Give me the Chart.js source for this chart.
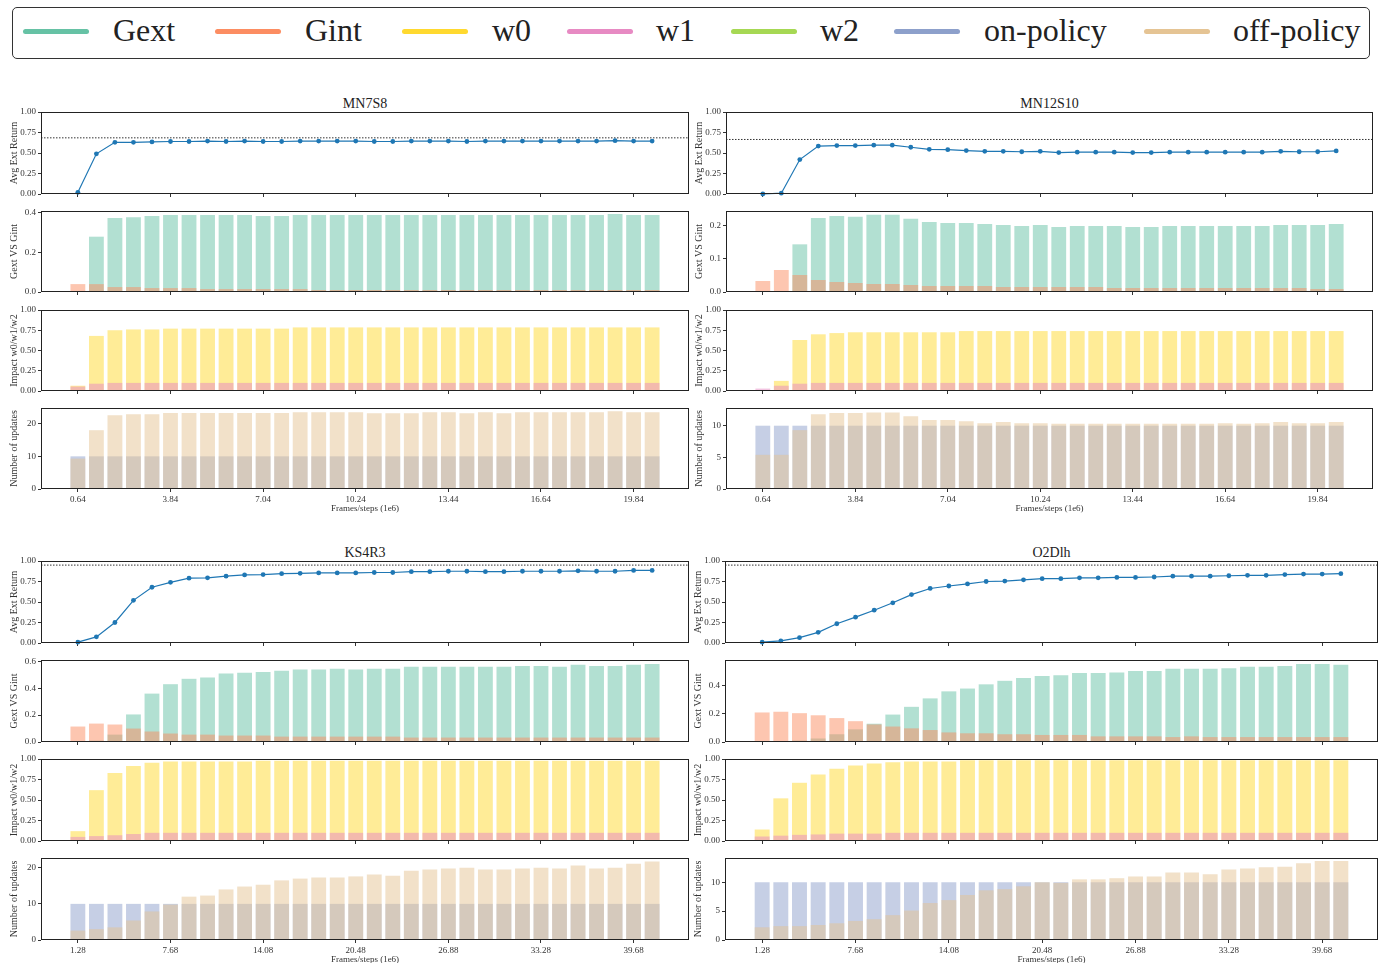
<!DOCTYPE html>
<html><head><meta charset="utf-8">
<script src="https://cdn.jsdelivr.net/npm/chart.js@4.4.1/dist/chart.umd.min.js"></script>
<style>
body{margin:0;background:#fff;width:1382px;height:963px;overflow:hidden;position:relative;font-family:"Liberation Serif",serif;color:#222;}
canvas{position:absolute;}
.ptitle{position:absolute;font-size:14px;transform:translate(-50%,-50%);white-space:nowrap;}
#legend{position:absolute;left:12px;top:7px;width:1358px;height:52px;border:1px solid #333;border-radius:5px;box-sizing:border-box;}
.lg-line{position:absolute;height:5px;border-radius:3px;width:66px;top:21px;}
.lg-text{position:absolute;font-size:32px;line-height:36px;top:4px;white-space:nowrap;}
</style>
</head><body>
<div id="legend"></div>
<script>
// ---------- data ----------
const framesA = [0.64,1.28,1.92,2.56,3.20,3.84,4.48,5.12,5.76,6.40,7.04,7.68,8.32,8.96,9.60,10.24,10.88,11.52,12.16,12.80,13.44,14.08,14.72,15.36,16.00,16.64,17.28,17.92,18.56,19.20,19.84,20.48];
const framesB = [1.28,2.56,3.84,5.12,6.40,7.68,8.96,10.24,11.52,12.80,14.08,15.36,16.64,17.92,19.20,20.48,21.76,23.04,24.32,25.60,26.88,28.16,29.44,30.72,32.00,33.28,34.56,35.84,37.12,38.40,39.68,40.96];
const xTicksA = [0.64,3.84,7.04,10.24,13.44,16.64,19.84];
const xTicksB = [1.28,7.68,14.08,20.48,26.88,33.28,39.68];
const retTicks = [0,0.25,0.5,0.75,1.0];
const impTicks = [0,0.25,0.5,0.75,1.0];

const seriesNames = ['Gext','Gint','w0','w1','w2','on-policy','off-policy'];

// MN7S8
const mn7_ret  = [0.02,0.49,0.63,0.63,0.635,0.64,0.64,0.645,0.64,0.645,0.64,0.64,0.645,0.645,0.645,0.645,0.64,0.64,0.645,0.645,0.645,0.64,0.645,0.645,0.645,0.645,0.645,0.645,0.645,0.65,0.645,0.645];
const mn7_ref  = [0.685];
const mn7_gext = [0,0.28,0.375,0.378,0.385,0.39,0.39,0.39,0.39,0.39,0.385,0.385,0.39,0.39,0.39,0.39,0.39,0.39,0.39,0.39,0.39,0.39,0.39,0.39,0.39,0.39,0.39,0.39,0.39,0.395,0.39,0.39];
const mn7_gint = [0.04,0.04,0.025,0.025,0.02,0.02,0.02,0.015,0.015,0.015,0.015,0.015,0.015,0.01,0.01,0.01,0.01,0.01,0.01,0.01,0.01,0.01,0.01,0.01,0.01,0.01,0.01,0.01,0.01,0.01,0.01,0.01];
const mn7_w0   = [0.065,0.68,0.75,0.76,0.76,0.77,0.77,0.77,0.77,0.77,0.77,0.77,0.785,0.785,0.785,0.785,0.785,0.785,0.785,0.785,0.785,0.785,0.785,0.785,0.785,0.785,0.785,0.785,0.785,0.785,0.785,0.785];
const mn7_w1   = [0.055,0.09,0.1,0.1,0.1,0.1,0.1,0.1,0.1,0.1,0.1,0.1,0.1,0.1,0.1,0.1,0.1,0.1,0.1,0.1,0.1,0.1,0.1,0.1,0.1,0.1,0.1,0.1,0.1,0.1,0.1,0.1];
const mn7_w2   = [0,0,0,0,0,0,0,0,0,0,0,0,0,0,0,0,0,0,0,0,0,0,0,0,0,0,0,0,0,0,0,0];
const mn7_on   = [10,10,10,10,10,10,10,10,10,10,10,10,10,10,10,10,10,10,10,10,10,10,10,10,10,10,10,10,10,10,10,10];
const mn7_off  = [9.3,18,22.6,22.9,22.9,23.3,23.3,23.3,23.3,23.3,23.3,23.3,23.5,23.5,23.5,23.5,23.2,23.2,23.2,23.5,23.5,23.2,23.5,23.2,23.5,23.5,23.5,23.5,23.5,23.8,23.5,23.5];
const mn7_gTicks = [0,0.2,0.4];
const mn7_uTicks = [0,10,20];

// MN12S10
const mn12_ret  = [0.0,0.01,0.42,0.585,0.59,0.59,0.595,0.595,0.57,0.545,0.54,0.53,0.52,0.52,0.515,0.52,0.505,0.51,0.51,0.51,0.505,0.505,0.51,0.51,0.51,0.51,0.51,0.51,0.52,0.515,0.515,0.525];
const mn12_ref  = [0.665];
const mn12_gext = [0,0.003,0.143,0.222,0.228,0.226,0.232,0.232,0.22,0.21,0.207,0.207,0.204,0.201,0.198,0.201,0.195,0.198,0.198,0.198,0.195,0.195,0.198,0.198,0.198,0.198,0.198,0.198,0.201,0.201,0.201,0.204];
const mn12_gint = [0.033,0.066,0.051,0.036,0.03,0.027,0.024,0.024,0.021,0.018,0.018,0.018,0.018,0.015,0.015,0.015,0.015,0.015,0.015,0.012,0.012,0.012,0.012,0.012,0.012,0.012,0.012,0.012,0.012,0.012,0.009,0.009];
const mn12_w0   = [0,0.125,0.63,0.70,0.715,0.725,0.725,0.725,0.725,0.725,0.725,0.74,0.74,0.74,0.74,0.74,0.74,0.74,0.74,0.74,0.74,0.74,0.74,0.74,0.74,0.74,0.74,0.74,0.74,0.74,0.74,0.74];
const mn12_w1   = [0.03,0.065,0.09,0.1,0.1,0.1,0.1,0.1,0.1,0.1,0.1,0.1,0.1,0.1,0.1,0.1,0.1,0.1,0.1,0.1,0.1,0.1,0.1,0.1,0.1,0.1,0.1,0.1,0.1,0.1,0.1,0.1];
const mn12_w2   = [0,0,0,0,0,0,0,0,0,0,0,0,0,0,0,0,0,0,0,0,0,0,0,0,0,0,0,0,0,0,0,0];
const mn12_on   = [10,10,10,10,10,10,10,10,10,10,10,10,10,10,10,10,10,10,10,10,10,10,10,10,10,10,10,10,10,10,10,10];
const mn12_off  = [5.4,5.4,9.3,11.8,12.0,12.0,12.1,12.1,11.5,10.9,10.9,10.7,10.4,10.6,10.4,10.4,10.3,10.3,10.3,10.3,10.3,10.3,10.3,10.3,10.3,10.4,10.3,10.4,10.6,10.4,10.4,10.6];
const mn12_gTicks = [0,0.1,0.2];
const mn12_uTicks = [0,5,10];

// KS4R3
const ks4_ret  = [0.01,0.075,0.25,0.52,0.68,0.74,0.79,0.795,0.815,0.83,0.835,0.845,0.85,0.855,0.855,0.855,0.86,0.86,0.87,0.87,0.875,0.875,0.87,0.87,0.875,0.875,0.875,0.88,0.875,0.875,0.885,0.885];
const ks4_ref  = [0.95];
const ks4_gext = [0,0.01,0.055,0.205,0.36,0.43,0.47,0.48,0.51,0.515,0.52,0.53,0.54,0.54,0.545,0.54,0.545,0.545,0.56,0.56,0.56,0.56,0.56,0.56,0.565,0.565,0.56,0.575,0.565,0.565,0.575,0.58];
const ks4_gint = [0.115,0.137,0.13,0.1,0.078,0.063,0.055,0.055,0.048,0.048,0.048,0.04,0.04,0.04,0.04,0.04,0.04,0.04,0.033,0.033,0.033,0.033,0.033,0.033,0.033,0.033,0.033,0.033,0.033,0.033,0.033,0.033];
const ks4_w0   = [0.12,0.62,0.83,0.915,0.955,0.97,0.97,0.97,0.97,0.97,0.98,0.98,0.98,0.98,0.98,0.98,0.98,0.98,0.98,0.98,0.98,0.98,0.98,0.98,0.98,0.98,0.98,0.98,0.98,0.98,0.98,0.98];
const ks4_w1   = [0.05,0.06,0.07,0.085,0.1,0.1,0.1,0.1,0.1,0.1,0.1,0.1,0.1,0.1,0.1,0.1,0.1,0.1,0.1,0.1,0.1,0.1,0.1,0.1,0.1,0.1,0.1,0.1,0.1,0.1,0.1,0.1];
const ks4_w2   = [0,0,0,0,0,0,0,0,0,0,0,0,0,0,0,0,0,0,0,0,0,0,0,0,0,0,0,0,0,0,0,0];
const ks4_on   = [10,10,10,10,10,10,10,10,10,10,10,10,10,10,10,10,10,10,10,10,10,10,10,10,10,10,10,10,10,10,10,10];
const ks4_off  = [2.6,3.0,3.5,5.4,7.9,9.8,12.0,12.3,14.0,14.8,15.3,16.5,17.0,17.3,17.3,17.6,18.1,17.8,19.2,19.5,19.8,20.0,19.5,19.5,19.8,20.0,19.8,20.6,19.8,20.0,21.1,21.7];
const ks4_gTicks = [0,0.2,0.4,0.6];
const ks4_uTicks = [0,10,20];

// O2Dlh
const o2_ret  = [0.01,0.025,0.065,0.13,0.235,0.315,0.4,0.49,0.59,0.665,0.695,0.72,0.75,0.755,0.77,0.785,0.785,0.795,0.795,0.8,0.8,0.805,0.815,0.815,0.815,0.82,0.825,0.825,0.835,0.84,0.84,0.845];
const o2_ref  = [0.95];
const o2_gext = [0,0,0.01,0.025,0.055,0.09,0.13,0.195,0.25,0.31,0.36,0.38,0.41,0.435,0.455,0.47,0.475,0.49,0.49,0.495,0.505,0.505,0.52,0.52,0.52,0.525,0.535,0.535,0.54,0.555,0.555,0.55];
const o2_gint = [0.21,0.215,0.205,0.19,0.17,0.148,0.125,0.11,0.097,0.085,0.068,0.062,0.062,0.055,0.055,0.05,0.05,0.05,0.04,0.04,0.04,0.04,0.035,0.04,0.035,0.035,0.035,0.035,0.035,0.035,0.035,0.035];
const o2_w0   = [0.14,0.52,0.71,0.81,0.88,0.92,0.945,0.96,0.97,0.97,0.97,0.985,0.985,0.985,0.985,0.985,0.985,0.985,0.985,0.985,0.985,0.985,0.985,0.985,0.985,0.985,0.985,0.985,0.985,0.985,0.985,0.985];
const o2_w1   = [0.055,0.065,0.075,0.08,0.09,0.09,0.09,0.1,0.1,0.1,0.1,0.1,0.1,0.1,0.1,0.1,0.1,0.1,0.1,0.1,0.1,0.1,0.1,0.1,0.1,0.1,0.1,0.1,0.1,0.1,0.1,0.1];
const o2_w2   = [0,0,0,0,0,0,0,0,0,0,0,0,0,0,0,0,0,0,0,0,0,0,0,0,0,0,0,0,0,0,0,0];
const o2_on   = [10,10,10,10,10,10,10,10,10,10,10,10,10,10,10,10,10,10,10,10,10,10,10,10,10,10,10,10,10,10,10,10];
const o2_off  = [2.2,2.4,2.4,2.6,2.9,3.3,3.6,4.3,5.1,6.4,6.9,7.8,8.6,8.8,9.3,10.0,9.9,10.5,10.5,10.7,11.0,11.0,11.7,11.7,11.4,12.2,12.4,12.6,12.7,13.3,13.7,13.7];
const o2_gTicks = [0,0.2,0.4];
const o2_uTicks = [0,5,10];

// ---------- style / layout ----------
const FONT = '"Liberation Serif", serif';
const COLORS = {Gext:'#66c2a5', Gint:'#fc8d62', w0:'#ffd92f', w1:'#e78ac3', w2:'#a6d854', 'on-policy':'#8da0cb', 'off-policy':'#e5c494'};
const ALPHA = {Gext:'rgba(102,194,165,0.5)', Gint:'rgba(252,141,98,0.5)', w0:'rgba(255,217,47,0.5)', w1:'rgba(231,138,195,0.5)', w2:'rgba(166,216,84,0.5)', on:'rgba(141,160,203,0.5)', off:'rgba(229,196,148,0.5)'};

const rowsTop = [[112,194],[211,292],[310,391],[408,489]];
const rowsBot = [[561,643],[660,742],[759,841],[858,940]];

const panels = [
  {name:'MN7S8', axL:41, axR:689, rows:rowsTop, titleY:104, frames:framesA, xTicks:xTicksA, xmin:-0.634, xmax:21.754,
   ret:mn7_ret, ref:mn7_ref, gext:mn7_gext, gint:mn7_gint, w0:mn7_w0, w1:mn7_w1, w2:mn7_w2, on:mn7_on, off:mn7_off,
   gTicks:mn7_gTicks, gMax:0.41, uTicks:mn7_uTicks, uMax:24.8},
  {name:'MN12S10', axL:726, axR:1373, rows:rowsTop, titleY:104, frames:framesA, xTicks:xTicksA, xmin:-0.634, xmax:21.754,
   ret:mn12_ret, ref:mn12_ref, gext:mn12_gext, gint:mn12_gint, w0:mn12_w0, w1:mn12_w1, w2:mn12_w2, on:mn12_on, off:mn12_off,
   gTicks:mn12_gTicks, gMax:0.243, uTicks:mn12_uTicks, uMax:12.8},
  {name:'KS4R3', axL:41, axR:689, rows:rowsBot, titleY:553, frames:framesB, xTicks:xTicksB, xmin:-1.268, xmax:43.508,
   ret:ks4_ret, ref:ks4_ref, gext:ks4_gext, gint:ks4_gint, w0:ks4_w0, w1:ks4_w1, w2:ks4_w2, on:ks4_on, off:ks4_off,
   gTicks:ks4_gTicks, gMax:0.61, uTicks:ks4_uTicks, uMax:22.7},
  {name:'O2Dlh', axL:725, axR:1378, rows:rowsBot, titleY:553, frames:framesB, xTicks:xTicksB, xmin:-1.268, xmax:43.508,
   ret:o2_ret, ref:o2_ref, gext:o2_gext, gint:o2_gint, w0:o2_w0, w1:o2_w1, w2:o2_w2, on:o2_on, off:o2_off,
   gTicks:o2_gTicks, gMax:0.583, uTicks:o2_uTicks, uMax:14.2}
];

// ---------- legend ----------
const legendPos = {lines:[10,202,389,554,718,881,1131], texts:[100,292,479,643,807,971,1220]};
const lg = document.getElementById('legend');
seriesNames.forEach((n,i)=>{
  const l = document.createElement('div'); l.className='lg-line';
  l.style.left = legendPos.lines[i]+'px'; l.style.background = COLORS[n]; lg.appendChild(l);
  const t = document.createElement('div'); t.className='lg-text';
  t.style.left = legendPos.texts[i]+'px'; t.textContent = n; lg.appendChild(t);
});

// ---------- charts ----------
const Y_W = 41, PAD_T = 8, PAD_R = 6, XH_TOP = 8, XH_BOT = 27;
const framePlugin = {
  id:'frame',
  afterDraw(chart){
    const {ctx, chartArea:a} = chart;
    ctx.save(); ctx.strokeStyle = '#222'; ctx.lineWidth = 1;
    ctx.strokeRect(Math.round(a.left)+0.5, Math.round(a.top)+0.5, Math.round(a.right-a.left)-1, Math.round(a.bottom-a.top)-1);
    ctx.restore();
  }
};

function makeCanvas(axL, axT, axR, axB, bottom){
  const xh = bottom ? XH_BOT : XH_TOP;
  const c = document.createElement('canvas');
  const w = axR - axL + Y_W + PAD_R, h = axB - axT + PAD_T + xh;
  c.style.left = (axL - Y_W)+'px'; c.style.top = (axT - PAD_T)+'px';
  c.style.width = w+'px'; c.style.height = h+'px';
  c.width = w; c.height = h;
  document.body.appendChild(c);
  return c;
}

function options(p, bottom, yMax, yTicks, yFmt, yTitle){
  const tickGrid = {display:true, drawOnChartArea:false, drawTicks:true, tickLength:3, color:'#333', offset:false};
  return {
    responsive:false, animation:false, devicePixelRatio:1,
    layout:{padding:{top:PAD_T, right:PAD_R, left:0, bottom:0}},
    plugins:{legend:{display:false}, tooltip:{enabled:false}, title:{display:false}},
    scales:{
      x:{type:'linear', min:p.xmin, max:p.xmax, offset:false, grid:tickGrid, border:{display:false},
         afterBuildTicks:s=>{ s.ticks = p.xTicks.map(v=>({value:v})); },
         afterFit:s=>{ s.height = bottom ? XH_BOT : XH_TOP; },
         ticks:{display:bottom, autoSkip:false, maxRotation:0, minRotation:0, padding:2, color:'#333',
                font:{family:FONT, size:9}, callback:v=>Number(v).toFixed(2)},
         title:{display:bottom, text:'Frames/steps (1e6)', color:'#333', font:{family:FONT, size:9}, padding:{top:0, bottom:2}}
      },
      y:{type:'linear', min:0, max:yMax, grid:tickGrid, border:{display:false},
         afterBuildTicks:s=>{ s.ticks = yTicks.map(v=>({value:v})); },
         afterFit:s=>{ s.width = Y_W; },
         ticks:{padding:2, color:'#333', font:{family:FONT, size:9}, callback:yFmt},
         title:{display:true, text:yTitle, color:'#333', font:{family:FONT, size:10}, padding:{top:8, bottom:0}}
      }
    }
  };
}

function pts(frames, vals){ return frames.map((x,i)=>({x:x, y:vals[i]})); }
// Chart.js paints datasets with a higher `order` first (underneath)
function barDs(frames, vals, color, order){
  return {data:pts(frames, vals), backgroundColor:color, borderWidth:0, grouped:false, categoryPercentage:0.8, barPercentage:1.0, order:order};
}

panels.forEach(p=>{
  const t = document.createElement('div'); t.className='ptitle'; t.textContent = p.name;
  t.style.left = ((p.axL+p.axR)/2)+'px'; t.style.top = p.titleY+'px'; document.body.appendChild(t);

  // 1: Avg Ext Return (line)
  let r = p.rows[0];
  new Chart(makeCanvas(p.axL, r[0], p.axR, r[1], false), {
    type:'line',
    data:{datasets:[
      {data:[{x:p.xmin, y:p.ref[0]},{x:p.xmax, y:p.ref[0]}], borderColor:'#333', borderWidth:1, borderDash:[1.5,1.5], pointRadius:0, fill:false, order:2},
      {data:pts(p.frames, p.ret), borderColor:'#1f77b4', backgroundColor:'#1f77b4', borderWidth:1.2, pointRadius:2.4, pointBorderWidth:0, tension:0, fill:false, clip:false, order:1}
    ]},
    options:options(p, false, 1.0, retTicks, v=>Number(v).toFixed(2), 'Avg Ext Return'),
    plugins:[framePlugin]
  });

  // 2: Gext VS Gint
  r = p.rows[1];
  new Chart(makeCanvas(p.axL, r[0], p.axR, r[1], false), {
    type:'bar',
    data:{datasets:[barDs(p.frames, p.gext, ALPHA.Gext, 2), barDs(p.frames, p.gint, ALPHA.Gint, 1)]},
    options:options(p, false, p.gMax, p.gTicks, v=>Number(v).toFixed(1), 'Gext VS Gint'),
    plugins:[framePlugin]
  });

  // 3: Impact w0/w1/w2
  r = p.rows[2];
  new Chart(makeCanvas(p.axL, r[0], p.axR, r[1], false), {
    type:'bar',
    data:{datasets:[barDs(p.frames, p.w0, ALPHA.w0, 3), barDs(p.frames, p.w1, ALPHA.w1, 2), barDs(p.frames, p.w2, ALPHA.w2, 1)]},
    options:options(p, false, 1.0, impTicks, v=>Number(v).toFixed(2), 'Impact w0/w1/w2'),
    plugins:[framePlugin]
  });

  // 4: Number of updates
  r = p.rows[3];
  new Chart(makeCanvas(p.axL, r[0], p.axR, r[1], true), {
    type:'bar',
    data:{datasets:[barDs(p.frames, p.on, ALPHA.on, 2), barDs(p.frames, p.off, ALPHA.off, 1)]},
    options:options(p, true, p.uMax, p.uTicks, v=>String(Math.round(v)), 'Number of updates'),
    plugins:[framePlugin]
  });
});
</script>
</body></html>
